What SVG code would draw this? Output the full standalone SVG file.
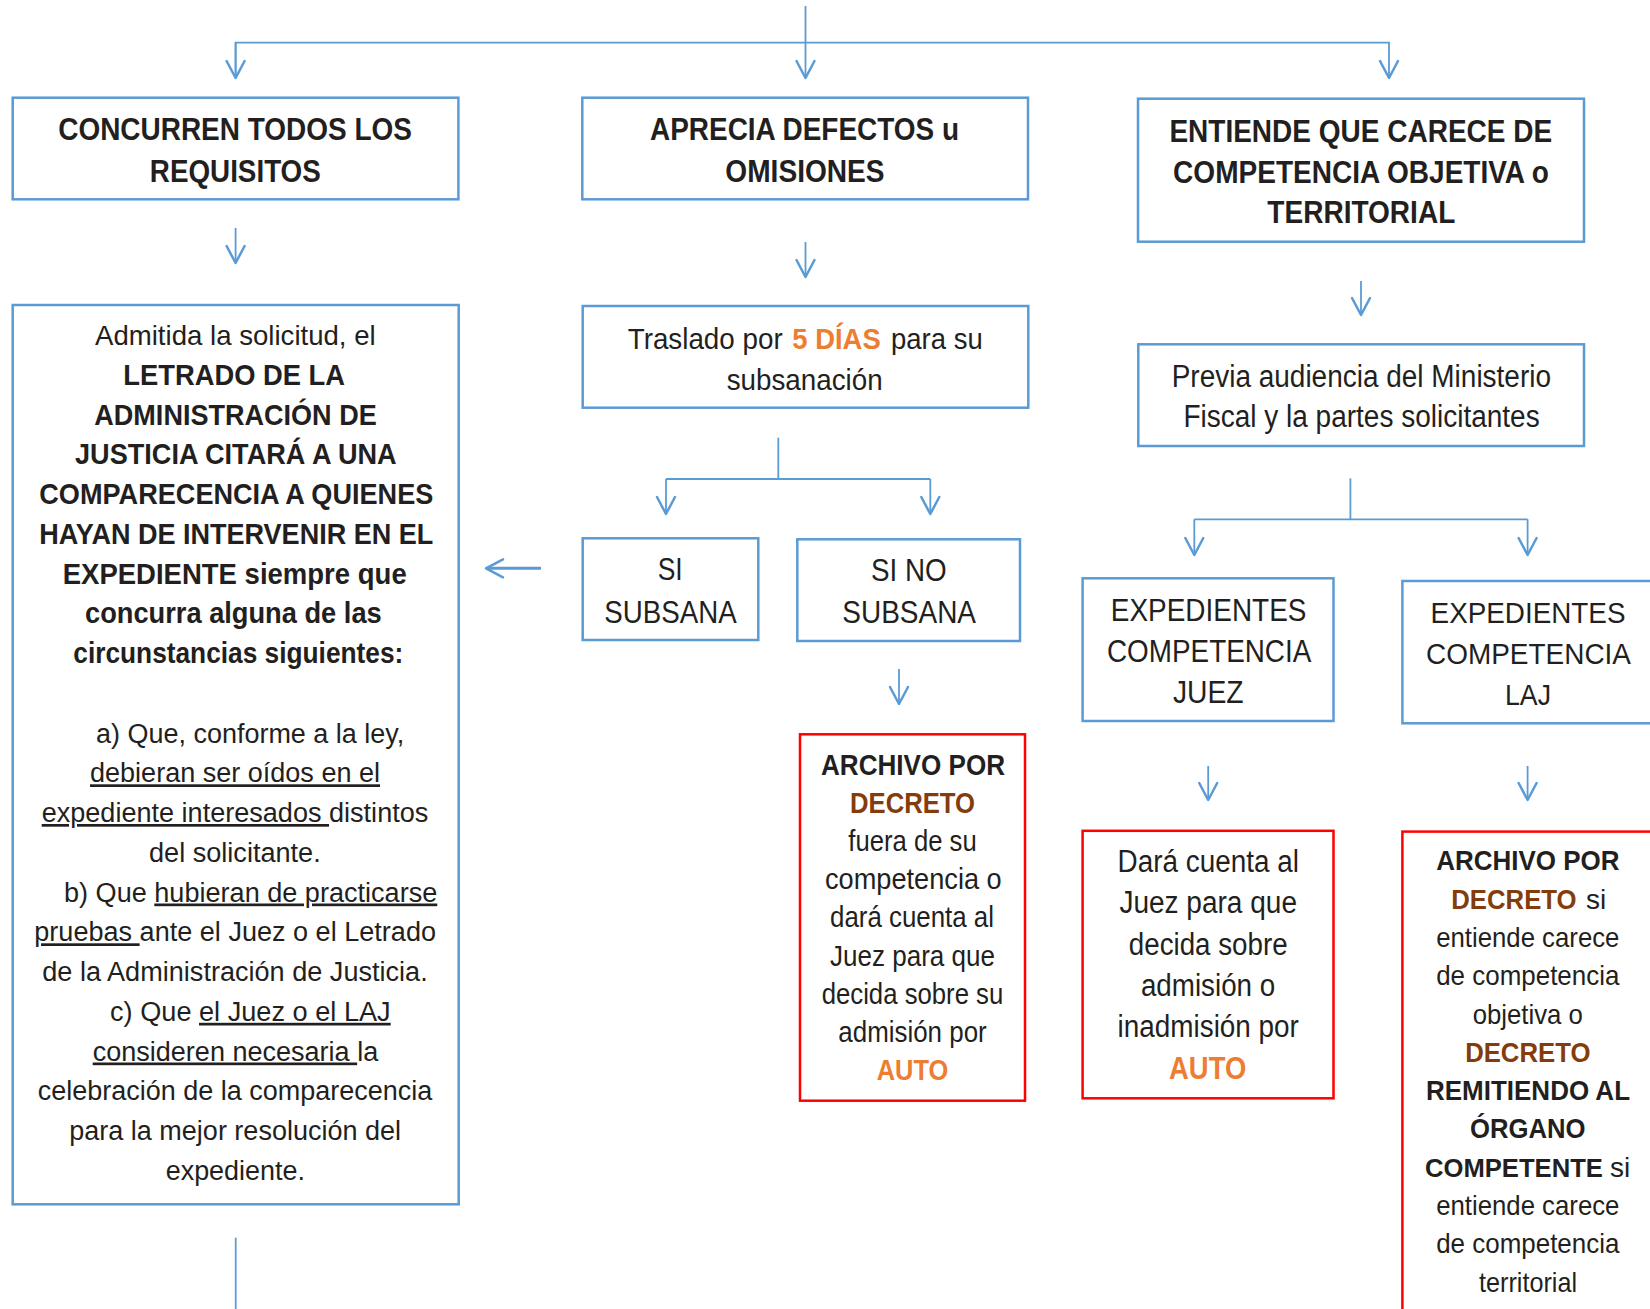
<svg xmlns="http://www.w3.org/2000/svg" width="1650" height="1309" viewBox="0 0 1650 1309">
<style>
.bx{fill:none;stroke:#5B9BD5;stroke-width:2.5}
.rb{fill:none;stroke:#FF0000;stroke-width:2.5}
.c{fill:none;stroke:#5B9BD5;stroke-width:1.8}
.ca{fill:none;stroke:#5B9BD5;stroke-width:1.8;marker-end:url(#ah)}
text{font-family:"Liberation Sans",Arial,Helvetica,sans-serif;fill:#231F20}
.b{font-weight:bold}
.o{fill:#ED7D31;font-weight:bold}
.br{fill:#843C0C;font-weight:bold}
.u{text-decoration:underline}
.m{text-anchor:middle}
</style>
<defs>
<marker id="ah" viewBox="-20 -12 24 24" refX="0" refY="0" markerWidth="24" markerHeight="24" markerUnits="userSpaceOnUse" orient="auto">
<path d="M-17,-9 L0,0 L-17,9" fill="none" stroke="#5B9BD5" stroke-width="2.5" stroke-linejoin="round" stroke-linecap="round"/>
</marker>
</defs>
<rect width="1650" height="1309" fill="#FFFFFF"/>

<g id="connectors">
<line class="ca" x1="805.5" y1="6" x2="805.5" y2="78"/>
<polyline class="ca" points="235.6,78 235.6,42.7 1389,42.7 1389,78"/>
<line class="ca" x1="235.6" y1="42.7" x2="235.6" y2="78"/>
<line class="ca" x1="235.6" y1="228" x2="235.6" y2="263"/>
<line class="ca" x1="805.5" y1="242" x2="805.5" y2="277"/>
<line class="ca" x1="1361" y1="281" x2="1361" y2="315"/>
<line class="c" x1="778.3" y1="437.7" x2="778.3" y2="479"/>
<polyline class="c" points="666,479 930.3,479"/>
<line class="ca" x1="666" y1="479" x2="666" y2="514"/>
<line class="ca" x1="930.3" y1="479" x2="930.3" y2="514"/>
<line class="ca" x1="899" y1="669" x2="899" y2="704"/>
<line class="c" x1="1350.4" y1="478.3" x2="1350.4" y2="519.3"/>
<polyline class="c" points="1194.3,519.3 1527.6,519.3"/>
<line class="ca" x1="1194.3" y1="519.3" x2="1194.3" y2="555"/>
<line class="ca" x1="1527.6" y1="519.3" x2="1527.6" y2="555"/>
<line class="ca" x1="1208.2" y1="766" x2="1208.2" y2="800"/>
<line class="ca" x1="1527.6" y1="766" x2="1527.6" y2="800"/>
<line class="ca" x1="541" y1="568.3" x2="486" y2="568.3" style="stroke-width:3"/>
<line class="c" x1="235.7" y1="1237.7" x2="235.7" y2="1309"/>
</g>

<g id="n-concurren">
<rect class="bx" x="12.7" y="97.7" width="445.7" height="101.6"/>
<text class="b" font-size="32" x="58.2" y="140" textLength="353.7" lengthAdjust="spacingAndGlyphs">CONCURREN TODOS LOS</text>
<text class="b" font-size="32" x="149.8" y="181.7" textLength="171" lengthAdjust="spacingAndGlyphs">REQUISITOS</text>
</g>

<g id="n-aprecia">
<rect class="bx" x="582.3" y="97.7" width="445.7" height="101.6"/>
<text class="b" font-size="32" x="650" y="140" textLength="309" lengthAdjust="spacingAndGlyphs">APRECIA DEFECTOS u</text>
<text class="b" font-size="32" x="725.3" y="181.7" textLength="159.3" lengthAdjust="spacingAndGlyphs">OMISIONES</text>
</g>

<g id="n-entiende">
<rect class="bx" x="1138" y="98.7" width="446" height="143"/>
<text class="b" font-size="32" x="1169.4" y="141.7" textLength="382.8" lengthAdjust="spacingAndGlyphs">ENTIENDE QUE CARECE DE</text>
<text class="b" font-size="32" x="1173.1" y="182.7" textLength="375.9" lengthAdjust="spacingAndGlyphs">COMPETENCIA OBJETIVA o</text>
<text class="b" font-size="32" x="1267.3" y="223.3" textLength="188" lengthAdjust="spacingAndGlyphs">TERRITORIAL</text>
</g>

<g id="n-admitida">
<rect class="bx" x="12.7" y="305" width="446" height="899.3"/>
<g font-size="27">
<text font-size="28" x="95" y="345" textLength="280.7" lengthAdjust="spacingAndGlyphs">Admitida la solicitud, el</text>
<text class="b" font-size="30" x="123.3" y="384.8" textLength="221.7" lengthAdjust="spacingAndGlyphs">LETRADO DE LA</text>
<text class="b" font-size="30" x="94.3" y="424.5" textLength="282.4" lengthAdjust="spacingAndGlyphs">ADMINISTRACIÓN DE</text>
<text class="b" font-size="30" x="75" y="464.3" textLength="321.7" lengthAdjust="spacingAndGlyphs">JUSTICIA CITARÁ A UNA</text>
<text class="b" font-size="30" x="39.3" y="504" textLength="394" lengthAdjust="spacingAndGlyphs">COMPARECENCIA A QUIENES</text>
<text class="b" font-size="30" x="39.3" y="543.8" textLength="394" lengthAdjust="spacingAndGlyphs">HAYAN DE INTERVENIR EN EL</text>
<text class="b" font-size="30" x="62.7" y="583.5" textLength="344" lengthAdjust="spacingAndGlyphs">EXPEDIENTE  siempre que</text>
<text class="b" font-size="30" x="85" y="623.3" textLength="296.7" lengthAdjust="spacingAndGlyphs">concurra alguna de las</text>
<text class="b" font-size="30" x="73.3" y="663" textLength="330" lengthAdjust="spacingAndGlyphs">circunstancias siguientes:</text>
<text x="96" y="742.5" textLength="308.3" lengthAdjust="spacingAndGlyphs">a) Que, conforme a la ley,</text>
<text x="90" y="782.3" textLength="290" lengthAdjust="spacingAndGlyphs"><tspan class="u">debieran ser oídos en el</tspan></text>
<text x="41.7" y="822" textLength="386.6" lengthAdjust="spacingAndGlyphs"><tspan class="u">expediente interesados </tspan>distintos</text>
<text x="149" y="861.8" textLength="171.7" lengthAdjust="spacingAndGlyphs">del solicitante.</text>
<text x="64" y="901.5" textLength="373.3" lengthAdjust="spacingAndGlyphs">b) Que <tspan class="u">hubieran de practicarse</tspan></text>
<text x="34.3" y="941.3" textLength="401.7" lengthAdjust="spacingAndGlyphs"><tspan class="u">pruebas </tspan>ante el Juez o el Letrado</text>
<text x="42.3" y="981" textLength="385.4" lengthAdjust="spacingAndGlyphs">de la Administración de Justicia.</text>
<text x="110" y="1020.8" textLength="280.7" lengthAdjust="spacingAndGlyphs">c) Que <tspan class="u">el Juez o el LAJ</tspan></text>
<text x="92.7" y="1060.5" textLength="285.5" lengthAdjust="spacingAndGlyphs"><tspan class="u">consideren necesaria </tspan>la</text>
<text x="37.7" y="1100.3" textLength="394.6" lengthAdjust="spacingAndGlyphs">celebración de la comparecencia</text>
<text x="69.3" y="1140" textLength="331.7" lengthAdjust="spacingAndGlyphs">para la mejor resolución del</text>
<text x="165.7" y="1179.8" textLength="139.3" lengthAdjust="spacingAndGlyphs">expediente.</text>
</g>
</g>

<g id="n-traslado">
<rect class="bx" x="582.7" y="306" width="445.6" height="101.7"/>
<text font-size="29.3" x="627.7" y="349.3" textLength="155" lengthAdjust="spacingAndGlyphs">Traslado por</text>
<text class="o" font-size="30" x="792.3" y="349.3" textLength="88.4" lengthAdjust="spacingAndGlyphs">5 DÍAS</text>
<text font-size="30" x="891" y="349.3" textLength="91.7" lengthAdjust="spacingAndGlyphs">para su</text>
<text font-size="30" x="726.7" y="390" textLength="156" lengthAdjust="spacingAndGlyphs">subsanación</text>
</g>

<g id="n-si-subsana">
<rect class="bx" x="582.7" y="538.3" width="175.6" height="101.7"/>
<text font-size="31" x="657.7" y="580" textLength="25" lengthAdjust="spacingAndGlyphs">SI</text>
<text font-size="31" x="604.3" y="622.7" textLength="132.4" lengthAdjust="spacingAndGlyphs">SUBSANA</text>
</g>

<g id="n-si-no-subsana">
<rect class="bx" x="797.3" y="539.3" width="222.7" height="101.7"/>
<text font-size="31" x="871" y="580.7" textLength="75.7" lengthAdjust="spacingAndGlyphs">SI NO</text>
<text font-size="31" x="842.3" y="623.3" textLength="133.7" lengthAdjust="spacingAndGlyphs">SUBSANA</text>
</g>

<g id="n-archivo-decreto">
<rect class="rb" x="800" y="734.3" width="225" height="366.4"/>
<g font-size="29">
<text class="b" x="821" y="775" textLength="184" lengthAdjust="spacingAndGlyphs">ARCHIVO POR</text>
<text class="br" x="850" y="813.1" textLength="125" lengthAdjust="spacingAndGlyphs">DECRETO</text>
<text x="848.3" y="851.2" textLength="128.4" lengthAdjust="spacingAndGlyphs">fuera de su</text>
<text x="825" y="889.3" textLength="176.7" lengthAdjust="spacingAndGlyphs">competencia  o</text>
<text x="830" y="927.4" textLength="164" lengthAdjust="spacingAndGlyphs">dará cuenta al</text>
<text x="830" y="965.5" textLength="165" lengthAdjust="spacingAndGlyphs">Juez para que</text>
<text x="821.7" y="1003.6" textLength="181.6" lengthAdjust="spacingAndGlyphs">decida sobre su</text>
<text x="838.3" y="1041.7" textLength="148.4" lengthAdjust="spacingAndGlyphs">admisión por</text>
<text class="o" x="876.7" y="1079.8" textLength="71.6" lengthAdjust="spacingAndGlyphs">AUTO</text>
</g>
</g>

<g id="n-previa">
<rect class="bx" x="1138.3" y="344.3" width="445.7" height="101.7"/>
<text font-size="31" x="1171.7" y="386.7" textLength="379.3" lengthAdjust="spacingAndGlyphs">Previa audiencia del Ministerio</text>
<text font-size="31" x="1183.4" y="427.3" textLength="356.3" lengthAdjust="spacingAndGlyphs">Fiscal y la partes solicitantes</text>
</g>

<g id="n-exp-juez">
<rect class="bx" x="1082.6" y="578.3" width="250.9" height="142.7"/>
<text font-size="32" x="1110.8" y="621" textLength="195.6" lengthAdjust="spacingAndGlyphs">EXPEDIENTES</text>
<text font-size="32" x="1107" y="661.7" textLength="204.3" lengthAdjust="spacingAndGlyphs">COMPETENCIA</text>
<text font-size="32" x="1172.9" y="703.3" textLength="70.7" lengthAdjust="spacingAndGlyphs">JUEZ</text>
</g>

<g id="n-exp-laj">
<rect class="bx" x="1402.4" y="581" width="252" height="142.3"/>
<text font-size="30" x="1430.6" y="622.7" textLength="194.9" lengthAdjust="spacingAndGlyphs">EXPEDIENTES</text>
<text font-size="30" x="1426" y="664.3" textLength="205" lengthAdjust="spacingAndGlyphs">COMPETENCIA</text>
<text font-size="30" x="1505" y="705" textLength="46" lengthAdjust="spacingAndGlyphs">LAJ</text>
</g>

<g id="n-dara-cuenta">
<rect class="rb" x="1082.6" y="830.8" width="250.9" height="267.5"/>
<g font-size="31">
<text x="1117.6" y="872.1" textLength="181.3" lengthAdjust="spacingAndGlyphs">Dará cuenta al</text>
<text x="1119.4" y="913.4" textLength="177.6" lengthAdjust="spacingAndGlyphs">Juez para que</text>
<text x="1128.8" y="954.7" textLength="158.8" lengthAdjust="spacingAndGlyphs">decida sobre</text>
<text x="1140.9" y="996" textLength="134.3" lengthAdjust="spacingAndGlyphs">admisión o</text>
<text x="1117.6" y="1037.3" textLength="181.3" lengthAdjust="spacingAndGlyphs">inadmisión por</text>
<text class="o" x="1169.1" y="1078.6" textLength="77.1" lengthAdjust="spacingAndGlyphs">AUTO</text>
</g>
</g>

<g id="n-archivo-remitiendo">
<rect class="rb" x="1402.4" y="831.6" width="252" height="500"/>
<g font-size="28">
<text class="b m" x="1527.8" y="870.3" textLength="183.3" lengthAdjust="spacingAndGlyphs">ARCHIVO POR</text>
<text class="br" font-size="27" x="1451.3" y="908.6" textLength="125.3" lengthAdjust="spacingAndGlyphs">DECRETO</text>
<text x="1586" y="908.6">si</text>
<text class="m" x="1527.8" y="946.9" textLength="183.3" lengthAdjust="spacingAndGlyphs">entiende carece</text>
<text class="m" x="1527.8" y="985.2" textLength="183.3" lengthAdjust="spacingAndGlyphs">de competencia</text>
<text class="m" x="1527.8" y="1023.5" textLength="110.3" lengthAdjust="spacingAndGlyphs">objetiva o</text>
<text class="br m" x="1527.8" y="1061.8" textLength="125.3" lengthAdjust="spacingAndGlyphs">DECRETO</text>
<text class="b m" x="1528" y="1100.1" textLength="204" lengthAdjust="spacingAndGlyphs">REMITIENDO AL</text>
<text class="b m" x="1527.8" y="1138.4" textLength="115.6" lengthAdjust="spacingAndGlyphs">ÓRGANO</text>
<text class="b" font-size="26" x="1425" y="1176.7" textLength="177.9" lengthAdjust="spacingAndGlyphs">COMPETENTE</text>
<text x="1610" y="1176.7">si</text>
<text class="m" x="1527.8" y="1215" textLength="183.3" lengthAdjust="spacingAndGlyphs">entiende carece</text>
<text class="m" x="1527.8" y="1253.3" textLength="183.3" lengthAdjust="spacingAndGlyphs">de competencia</text>
<text class="m" x="1528" y="1291.6" textLength="98" lengthAdjust="spacingAndGlyphs">territorial</text>
</g>
</g>
</svg>
